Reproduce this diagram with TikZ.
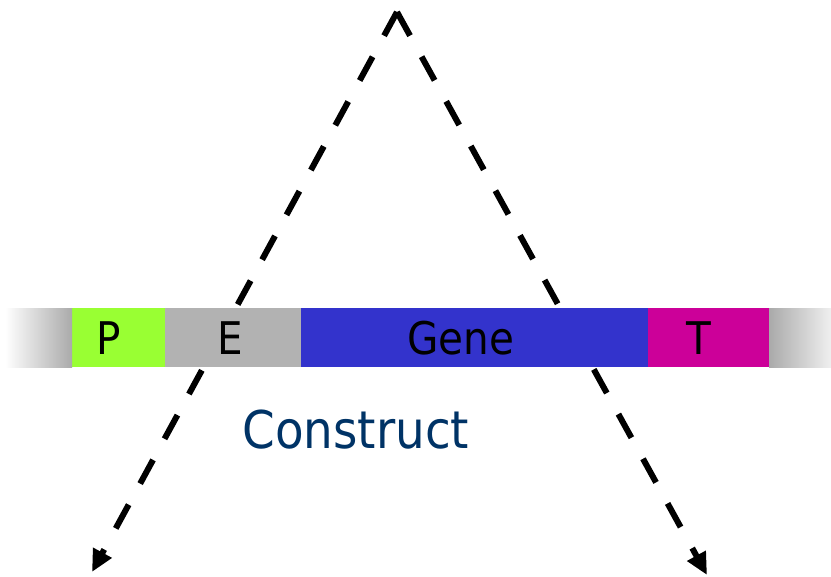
\documentclass[tikz,border=0pt]{standalone}
\usepackage{fontspec}
\setmainfont{DejaVu Sans Condensed}
\usetikzlibrary{positioning}
\usetikzlibrary{arrows.meta}
\definecolor{pgreen}{HTML}{99FF33}
\definecolor{egrey}{HTML}{B2B2B2}
\definecolor{gblue}{HTML}{3333CC}
\definecolor{tmagenta}{HTML}{CC0099}
\definecolor{fadegrey}{HTML}{AAAAAA}
\definecolor{cblue}{HTML}{003366}
\tikzset{
seg/.style={
  rectangle,
  inner sep=0pt,
  minimum height=59pt,
  font=\fontsize{45}{50}\selectfont,
  text=black
  },
fade/.style={
  rectangle,
  inner sep=0pt,
  minimum height=59pt
  },
dashline/.style={
  line width=6pt,
  dash pattern=on 27pt off 24pt,
  -{Triangle[length=22pt,width=20pt]}
  }
}

\begin{document}
\begin{tikzpicture}[x=1pt,y=-1pt]
    \useasboundingbox (0,0) rectangle (831,577);
    % dashed arms behind the construct
    \coordinate (top) at (397,12);
    \coordinate (lt) at (92,572);
    \coordinate (rt) at (707,575);
    \draw[dashline] (top) -- (lt);
    \draw[dashline] (top) -- (rt);
    % construct bar
    \node[seg,fill=pgreen,minimum width=93pt] (p) at (118.5,338) {P\kern20pt};
    \node[seg,fill=egrey,minimum width=137pt,right=-0.5pt of p] (e) {E\kern6pt};
    \node[seg,fill=gblue,minimum width=347pt,right=-1pt of e] (gene) {Gene\kern28pt};
    \node[seg,fill=tmagenta,minimum width=121pt,right=-0.5pt of gene] (t) {T\kern20pt};
    \node[fade,left color=white,right color=fadegrey,minimum width=67pt,left=-0.5pt of p] (lend) {};
    \node[fade,left color=fadegrey,right color=white!94!black,minimum width=62pt,right=-0.5pt of t] (rend) {};
    \node[text=cblue,font=\fontsize{52}{56}\selectfont] (construct) at (356,430) {Construct};
\end{tikzpicture}
\end{document}
